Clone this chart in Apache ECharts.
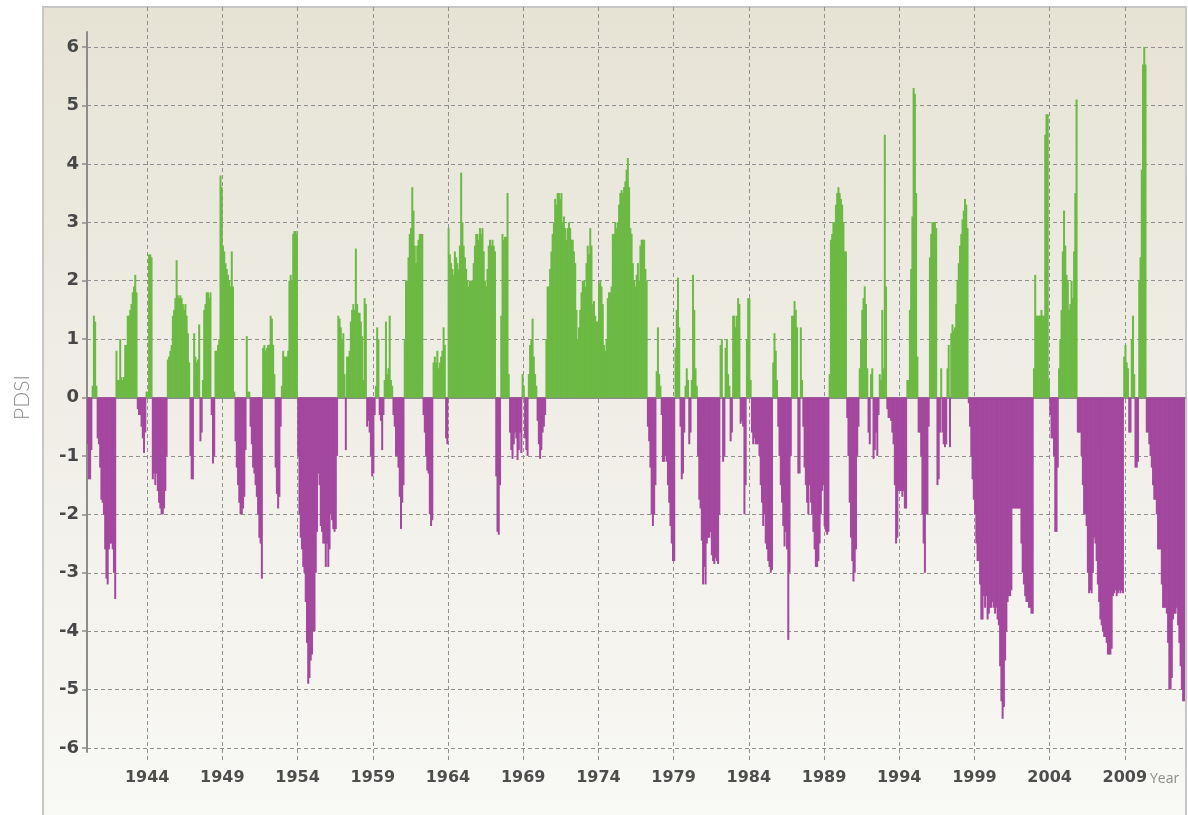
<!DOCTYPE html>
<html>
<head>
<meta charset="utf-8">
<script src="https://cdn.jsdelivr.net/npm/echarts@6/dist/echarts.min.js"></script>
<style>
html,body{margin:0;padding:0;background:#ffffff;}
#chart{width:1188px;height:815px;}
</style>
</head>
<body>
<div id="chart"></div>
<script>
// ---- data: monthly PDSI values, Jan 1940 .. Dec 2012 ----
const startYear = 1940;
const endYear = 2012;
const xLabelYears = [1944, 1949, 1954, 1959, 1964, 1969, 1974, 1979, 1984, 1989, 1994, 1999, 2004, 2009];
const yTickValues = [-6, -5, -4, -3, -2, -1, 0, 1, 2, 3, 4, 5, 6];

const pdsi1940s = [
  -0.8,-1.4,-1.4,-0.9,0.2,1.4,1.3,0.2,-0.7,-0.8,-1.2,-1.75,
  -1.8,-2.0,-2.6,-3.1,-3.2,-2.6,-2.5,-2.5,-2.6,-3.0,-3.45,0.8,
  0.3,0.3,1.0,0.35,0.3,0.35,0.9,0.9,1.4,1.4,1.5,1.6,
  1.8,1.9,2.1,1.8,-0.2,-0.3,-0.3,-0.5,-0.7,-0.95,-0.6,0.1,
  0.1,2.45,2.45,2.4,-1.4,-1.3,-1.5,-1.3,-1.6,-1.8,-1.9,-2.0,
  -2.0,-1.9,-1.6,-1.0,0.65,0.7,0.8,0.9,1.4,1.5,1.7,2.35,
  1.75,1.7,1.75,1.7,1.6,1.5,1.6,1.4,1.1,0.6,-1.0,-1.4,
  -1.4,1.1,0.7,0.6,0.65,1.25,-0.75,-0.6,0.3,1.5,1.6,1.8,
  1.8,1.7,1.8,-0.3,-1.13,-1.0,0.8,0.8,0.9,1.0,3.8,3.6,
  2.6,2.5,2.3,2.2,2.1,2.0,1.9,2.5,1.9,0.1,-0.75,-1.2
];
const pdsi1950s = [
  -1.5,-1.8,-2.0,-2.0,-1.9,-1.7,-0.9,1.05,0.1,0.1,-0.5,-0.8,
  -1.2,-1.3,-1.5,-1.7,-2.0,-2.4,-2.5,-3.1,0.85,0.9,0.8,0.85,
  0.9,0.9,1.4,1.35,0.9,0.4,-1.2,-1.65,-1.9,-1.7,-0.5,0.2,
  0.8,0.7,0.7,0.7,0.8,2.0,2.1,2.0,2.8,2.85,2.85,2.8,
  -1.0,-2.0,-2.4,-2.6,-2.9,-3.0,-3.5,-4.2,-4.9,-4.8,-4.5,-4.4,
  -4.0,-4.0,-3.0,-2.3,-1.3,-1.5,-2.2,-2.3,-2.5,-2.5,-2.9,-2.5,
  -2.9,-2.6,-2.0,-2.1,-2.25,-2.3,-2.25,-1.0,1.4,1.35,1.2,1.0,
  1.1,0.4,-0.9,0.7,0.7,0.8,1.3,1.5,1.6,1.5,2.55,1.6,
  1.45,1.45,1.3,1.05,0.3,1.7,1.6,-0.5,-0.4,-0.6,-1.0,-1.35,
  -1.3,-0.3,0.2,1.2,1.0,-0.3,-0.4,-0.9,-0.3,0.3,1.3,0.4
];
const pdsi1960s = [
  0.5,1.4,0.3,0.2,-0.3,-0.5,-1.0,-1.0,-1.2,-1.7,-2.25,-1.8,
  -1.5,1.0,2.0,2.0,2.4,2.8,2.9,3.6,3.2,2.6,2.3,2.6,
  2.7,2.8,2.8,2.8,-0.3,-0.6,-1.0,-1.25,-1.3,-2.0,-2.2,-2.1,
  0.6,0.7,0.6,0.8,0.5,0.6,0.7,0.8,1.2,0.9,-0.7,-0.8,
  2.9,2.45,2.3,2.2,2.1,2.5,2.4,2.3,2.2,2.6,3.85,3.0,
  2.6,2.4,2.2,2.0,1.9,2.0,2.0,2.0,2.3,2.6,2.8,2.8,
  2.7,2.9,2.8,2.9,2.5,2.0,1.9,2.2,2.6,2.7,2.6,2.7,
  2.6,2.5,-1.35,-2.3,-2.35,-1.5,1.4,2.8,2.7,2.75,2.75,3.5,
  0.4,-0.6,-0.9,-1.05,-0.8,-0.6,-0.7,-1.07,-0.9,-0.6,-0.95,0.4,
  0.2,-0.7,-0.9,-1.0,0.4,0.9,1.0,1.35,0.7,0.4,0.2,-0.4
];
const pdsi1970s = [
  -0.8,-1.05,-0.9,-0.6,-0.5,-0.3,1.0,1.9,1.9,2.2,2.5,2.8,
  3.0,3.4,3.3,3.5,3.5,3.4,3.5,3.0,3.1,2.9,2.7,2.9,
  3.0,2.9,2.7,2.7,2.5,2.3,1.5,1.0,1.2,1.5,1.8,2.0,
  2.0,1.9,2.3,2.6,2.45,2.9,2.6,1.6,1.65,1.4,1.3,1.3,
  1.95,2.0,1.9,1.6,0.9,0.8,1.0,1.7,1.8,1.8,1.9,2.8,
  2.8,3.0,2.9,3.0,3.3,3.5,3.55,3.5,3.6,3.7,3.9,4.1,
  3.6,2.9,2.8,2.3,2.0,1.9,2.1,2.3,2.0,2.6,2.7,2.7,
  2.7,2.2,2.0,-0.5,-0.75,-1.2,-2.0,-2.2,-2.0,-1.5,0.45,1.2,
  0.4,0.2,-0.3,-1.1,-1.1,-1.0,-1.1,-1.5,-1.8,-2.2,-2.5,-2.8,
  -2.8,0.85,1.5,2.05,1.2,-0.5,-1.4,-1.3,-0.6,0.2,0.5,0.3
];
const pdsi1980s = [
  -0.8,-0.6,0.3,2.1,1.5,0.5,0.2,-1.0,-1.75,-1.9,-2.45,-3.2,
  -2.9,-3.2,-2.5,-2.4,-2.4,-2.3,-2.7,-2.8,-2.85,-2.75,-2.8,-2.85,
  -2.0,0.9,1.0,-1.1,-1.0,0.85,1.0,0.4,0.2,-0.75,-0.6,1.4,
  1.4,1.2,1.4,1.7,1.6,-0.45,-0.4,-0.5,-2.0,-1.5,1.0,1.7,
  1.7,0.3,-0.6,-0.8,-0.7,-0.8,-0.8,-0.8,-1.0,-1.5,-1.8,-2.2,
  -2.0,-2.5,-2.6,-2.8,-2.9,-3.0,-2.95,0.6,1.1,0.8,0.3,-0.5,
  -1.0,-1.5,-1.8,-2.2,-2.55,-2.3,-2.6,-4.15,-3.0,-1.0,1.4,1.4,
  1.65,1.5,1.2,-1.3,-1.3,1.2,0.3,-0.5,-1.2,-1.5,-1.8,-2.0,
  -1.5,-1.8,-2.0,-2.3,-2.6,-2.9,-2.9,-2.8,-2.5,-2.0,-1.6,-1.5,
  -2.2,-2.3,-2.35,-2.3,0.4,2.7,2.8,3.0,3.0,3.3,3.5,3.6
];
const pdsi1990s = [
  3.5,3.4,3.3,3.0,2.5,2.5,-0.35,-1.0,-1.8,-2.4,-2.8,-3.15,
  -3.0,-2.6,-1.0,-0.5,0.5,1.0,1.5,1.7,1.9,1.6,0.5,-0.6,
  -0.8,0.4,0.5,-1.05,-0.9,-0.6,-1.0,-0.3,0.4,0.3,1.5,0.5,
  4.5,1.9,-0.2,-0.35,-0.35,-0.4,-0.6,-0.8,-1.5,-2.5,-2.4,-1.6,
  -1.6,-1.6,-1.7,-1.6,-1.9,-1.9,0.3,0.3,1.5,2.2,3.1,5.3,
  5.2,3.5,0.7,-0.6,-0.6,-1.0,-2.0,-2.5,-3.0,-2.0,-2.0,-0.5,
  2.4,2.8,3.0,3.0,3.0,2.9,-1.5,-1.4,-0.6,0.5,-0.6,-0.8,
  -0.85,-0.8,0.5,0.9,-0.85,1.1,1.25,1.15,1.2,1.6,2.0,2.3,
  2.6,2.8,3.05,3.2,3.4,3.3,2.9,-0.1,-0.5,-1.0,-1.4,-1.75,
  -2.0,-2.5,-2.8,-2.8,-3.2,-3.8,-3.8,-3.4,-3.6,-3.4,-3.8,-3.7
];
const pdsi2000s = [
  -3.6,-3.6,-3.5,-3.6,-3.7,-3.6,-3.8,-3.9,-4.6,-5.2,-5.5,-5.3,
  -4.5,-4.0,-3.5,-3.4,-3.4,-3.3,-1.9,-1.9,-1.9,-1.9,-1.9,-1.9,
  -1.9,-2.5,-3.0,-3.2,-3.4,-3.5,-3.5,-3.6,-3.6,-3.7,-3.7,0.5,
  2.1,1.4,1.4,1.4,1.4,1.5,1.4,1.4,4.5,4.85,4.85,0.3,
  -0.3,-0.7,-0.7,-1.0,-2.3,-2.3,-1.2,0.5,1.0,1.5,2.5,3.2,
  2.6,2.1,2.0,1.5,1.6,2.0,1.7,2.5,3.5,5.1,-0.6,-0.6,
  -0.6,-1.0,-1.5,-2.0,-2.0,-2.2,-3.0,-3.35,-3.3,-3.35,-3.0,-2.4,
  -2.5,-2.8,-3.2,-3.5,-3.8,-3.9,-4.0,-4.1,-4.1,-4.2,-4.4,-4.4,
  -4.4,-4.3,-3.4,-3.35,-3.3,-3.4,-3.35,-3.3,-3.35,-3.3,-3.35,0.7,
  0.9,0.6,0.5,-0.6,-0.6,1.0,1.4,0.4,-1.2,-1.2,-1.1,2.0
];
const pdsi2010s = [
  2.4,3.9,5.7,6.1,5.7,-0.6,-0.6,-0.8,-1.0,-1.2,-1.5,-1.75,
  -1.75,-2.0,-2.6,-2.6,-2.6,-3.2,-3.6,-3.6,-3.6,-3.7,-4.2,-5.0,
  -5.0,-4.8,-3.8,-3.7,-3.7,-3.6,-3.9,-4.2,-4.6,-5.0,-5.2,-5.2
];

// ---- build categories / series from the arrays ----
const values = [].concat(pdsi1940s, pdsi1950s, pdsi1960s, pdsi1970s, pdsi1980s, pdsi1990s, pdsi2000s, pdsi2010s);
const monthCats = [];
for (let y = startYear; y <= endYear; y++) {
  for (let m = 1; m <= 12; m++) monthCats.push(y + '-' + (m < 10 ? '0' + m : m));
}
const yearCats = [];
for (let y = startYear; y <= endYear + 1; y++) yearCats.push(String(y));

const GREEN = '#6cb944';
const PURPLE = '#a4479f';
const GRID_COLOR = '#8f8f8f';
const AXIS_COLOR = '#8c8c8c';
const LABEL_FONT = 'DejaVu Sans';
const showYear = (idx, val) => xLabelYears.indexOf(Number(val)) >= 0;

const chart = echarts.init(document.getElementById('chart'), null, {renderer: 'canvas'});
chart.setOption({
  animation: false,
  backgroundColor: '#ffffff',
  graphic: [{
    type: 'rect',
    z: -100,
    silent: true,
    shape: {x: 43, y: 7, width: 1143, height: 820},
    style: {
      fill: {type: 'linear', x: 0, y: 0, x2: 0, y2: 1, colorStops: [
        {offset: 0, color: '#e6e3d5'},
        {offset: 0.45, color: '#efede5'},
        {offset: 1, color: '#f9f9f6'}
      ]},
      stroke: '#c6c6c6',
      lineWidth: 2
    }
  }],
  title: {
    text: 'Year',
    left: 1150,
    top: 772,
    padding: 0,
    textStyle: {fontSize: 14, fontWeight: 'normal', color: '#8c8c8c', fontFamily: 'Open Sans'}
  },
  grid: [
    {left: 87, right: 3, top: 47, bottom: 67},
    {left: 87, right: 3, top: 7, bottom: 53},
    {left: 87, right: 3, top: 32, bottom: 63}
  ],
  xAxis: [
    {
      gridIndex: 0, type: 'category', data: monthCats, boundaryGap: true,
      axisLine: {show: true, onZero: true, lineStyle: {color: AXIS_COLOR, width: 2}},
      axisTick: {show: false}, axisLabel: {show: false}, splitLine: {show: false}
    },
    {
      gridIndex: 1, type: 'category', data: yearCats, boundaryGap: false,
      axisLine: {show: false, onZero: false}, axisTick: {show: false},
      axisLabel: {
        interval: showYear, margin: 8,
        fontSize: 16, fontWeight: 'bold', color: '#4d4d4d', fontFamily: LABEL_FONT
      },
      splitLine: {show: true, interval: showYear, lineStyle: {color: GRID_COLOR, type: [4, 3], width: 1}}
    },
    {gridIndex: 2, type: 'category', data: ['a'], show: false}
  ],
  yAxis: [
    {
      gridIndex: 0, type: 'value', min: yTickValues[0], max: yTickValues[yTickValues.length - 1], interval: 1,
      name: 'PDSI', nameLocation: 'middle', nameRotate: 90, nameGap: 54,
      nameTextStyle: {fontSize: 21, color: '#8c8c8c', fontFamily: 'Lato', fontWeight: 300},
      axisLine: {show: false},
      axisTick: {show: true, length: 5, lineStyle: {color: AXIS_COLOR, width: 1.5}},
      axisLabel: {margin: 8, fontSize: 18, fontWeight: 'bold', color: '#474747', fontFamily: LABEL_FONT},
      splitLine: {show: true, lineStyle: {color: GRID_COLOR, type: [4, 3], width: 1}}
    },
    {gridIndex: 1, type: 'value', show: false},
    {
      gridIndex: 2, type: 'value',
      axisLine: {show: true, lineStyle: {color: AXIS_COLOR, width: 2}},
      axisTick: {show: false}, axisLabel: {show: false}, splitLine: {show: false}
    }
  ],
  series: [{
    type: 'bar',
    xAxisIndex: 0,
    yAxisIndex: 0,
    data: values,
    barWidth: 2,
    silent: true,
    itemStyle: {color: (p) => (p.value >= 0 ? GREEN : PURPLE)}
  }]
});
</script>
</body>
</html>
